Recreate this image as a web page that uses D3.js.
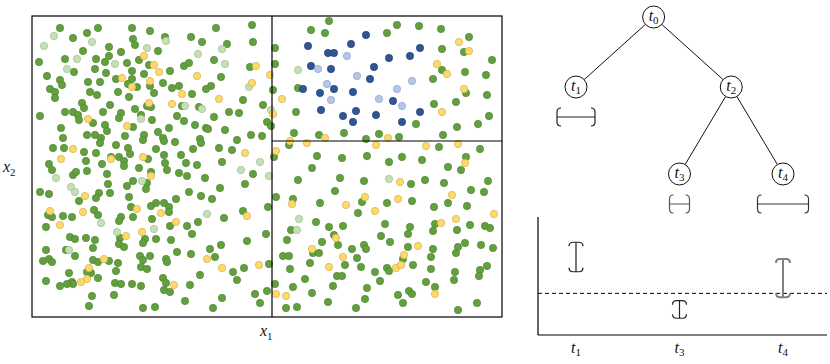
<!DOCTYPE html>
<html>
<head>
<meta charset="utf-8">
<script src="https://cdn.jsdelivr.net/npm/d3@7"></script>
<style>
  body { margin: 0; background: #fff; }
  text { font-family: "Liberation Serif", "DejaVu Serif", serif; }
</style>
</head>
<body>
<div id="root"></div>
<script>
// scatter points [x1, x2], grouped by class
const greenDark = [
  [28,289],[66,289],[100,289],[118,286],[184,289],[220,292],[55,284],[41,279],[101,278],[103,272],[133,280],[159,280],[170,275],[195,273],[221,275],[77,270],[51,266],[89,265],[126,266],[77,261],[7,255],[33,258],[64,258],[73,255],[95,254],[107,257],[117,252],[152,251],[157,254],[182,257],[42,245],[63,248],[100,246],[138,246],[218,250],[15,241],[74,244],[84,238],[100,238],[96,233],[112,243],[131,234],[189,240],[28,237],[30,232],[56,235],[68,235],[105,230],[118,231],[140,229],[147,231],[179,231],[174,228],[18,228],[23,225],[23,219],[58,225],[65,222],[86,225],[122,224],[160,223],[97,220],[211,217],[50,214],[78,212],[115,211],[119,210],[150,211],[167,210],[231,212],[52,209],[103,208],[8,201],[33,205],[41,205],[46,202],[71,205],[89,204],[87,199],[109,202],[145,201],[182,200],[197,205],[207,204],[235,195],[239,191],[47,197],[61,194],[120,197],[152,196],[163,192],[73,192],[75,186],[101,190],[29,189],[137,189],[174,189],[176,188],[193,187],[126,185],[55,182],[63,182],[69,179],[93,181],[112,182],[111,177],[131,179],[132,176],[219,182],[230,181],[31,179],[143,175],[168,178],[169,174],[205,177],[68,174],[84,172],[21,169],[32,169],[96,169],[124,168],[161,168],[187,169],[200,167],
  [297,296],[279,287],[293,284],[365,292],[387,291],[409,288],[355,284],[437,280],[243,269],[410,268],[432,265],[460,257],[243,253],[410,247],[433,245],[454,242],[401,238],[241,227],[266,229],[434,224],[455,222],[424,215],[402,213],[264,205],[457,201],[384,193],[446,193],[262,184],[287,182],[312,184],[425,190],[411,182],[347,183],[334,178],[367,180],
  [52,165],[64,164],[79,160],[87,160],[92,156],[98,163],[116,158],[132,162],[149,162],[190,155],[17,153],[20,147],[54,156],[55,146],[70,153],[92,151],[107,149],[133,154],[135,147],[154,154],[165,152],[147,144],[119,145],[41,142],[44,145],[75,143],[155,141],[173,139],[221,143],[101,136],[115,134],[76,133],[95,131],[114,128],[188,129],[213,133],[8,125],[17,123],[67,124],[78,124],[64,119],[47,116],[97,120],[157,125],[169,121],[180,118],[144,118],[124,114],[119,111],[132,114],[137,110],[99,110],[236,110],[16,102],[20,100],[31,101],[40,100],[62,107],[66,102],[89,100],[87,96],[101,100],[137,105],[120,98],[211,106],[192,99],[166,95],[14,90],[138,91],[155,91],[160,83],[234,83],[38,80],[43,78],[54,79],[63,77],[88,79],[87,73],[92,70],[113,78],[111,74],[124,78],[139,77],[61,69],[14,67],[34,67],[43,61],[145,65],[159,63],[178,68],[189,72],[215,76],[108,61],[118,61],[111,57],[134,58],[135,55],[183,60],[11,56],[17,58],[20,55],[61,57],[66,55],[77,56],[86,54],[109,50],[115,48],[84,46],[201,45],[212,49],[237,53],[59,44],[55,45],[37,44],[168,42],[40,35],[41,33],[35,33],[28,31],[14,36],[66,39],[131,39],[134,34],[83,34],[89,33],[100,33],[109,31],[158,32],[205,37],[132,27],[138,25],[235,26],[60,21],[82,22],[223,23],[190,19],[153,16],[228,14],[57,11],[111,9],[123,10],[181,9],
  [257,172],[407,170],[448,168],[242,160],[285,161],[310,159],[335,161],[370,160],[357,155],[390,157],[434,160],[280,149],[416,150],[429,147],[266,137],[308,139],[332,136],[379,133],[393,137],[412,134],[456,136],[303,126],[439,127],[452,125],[244,120],[261,118],[288,114],[330,115],[355,114],[380,116],[416,114],[402,110],[435,111],[326,104],[259,87],[284,95],[297,90],[311,91],[353,93],[378,90],[403,93],[425,87],[438,92],[453,91],[458,89],[401,86],[255,77],[302,82],[349,81],[376,83],[358,75],[290,75],[306,72],[281,64],[287,64],[320,68],[332,72],[334,68],[376,70],[401,68],[433,74],[426,70],[424,64],[449,72],[461,69],[251,61],[257,61],[325,59],[371,58],[399,60],[278,54],[313,52],[329,50],[355,49],[357,46],[381,52],[399,48],[258,48],[343,45],[423,45],[448,47],[455,51],[447,41],[422,37],[273,38],[305,41],[310,41],[348,36],[394,35],[243,33],[261,30],[301,31],[335,29],[403,30],[280,24],[366,22],[377,26],[380,23],[333,18],[296,15],[371,14],[445,14],[254,9],[265,10],[324,9],[426,7]
]
const greenLight = [
  [22,281],[60,275],[134,276],[12,271],[115,269],[190,268],[166,263],[45,258],[83,253],[193,253],[35,248],[217,230],[153,211],[170,208],[109,198],[239,207],
  [266,247],
  [228,155],[24,139],[209,147],[237,141],[110,136],[39,130],[43,125],[175,103],[69,94],[85,85],[122,88],[37,67],
  [357,138],[267,98],[265,87]
]
const yellow = [
  [112,261],[122,252],[127,245],[224,251],[238,242],[90,239],[118,236],[165,241],[100,230],[220,234],[150,223],[187,218],[117,214],[140,213],[95,191],[241,203],[56,198],[41,168],
  [427,275],[437,266],[405,253],[415,243],[432,228],[250,218],[410,205],[293,179],[356,179],[258,176],
  [29,158],[79,158],[111,160],[213,164],[119,141],[53,121],[105,108],[18,106],[51,105],[129,104],[215,101],[144,95],[28,92],[94,81],[110,85],[175,58],[72,58],[57,49],[190,49],[227,52],[55,38],[49,35],[142,32],
  [275,174],[344,172],[394,171],[426,173],[244,166],[433,154],[368,135],[420,122],[260,113],[333,120],[314,112],[366,118],[462,103],[343,106],[409,94],[424,98],[304,79],[280,68],[386,71],[311,60],[372,62],[297,50],[364,49],[369,52],[244,23],[254,21],[403,23]
]
const blueDark = [
  [334,282],[276,271],[319,273],[388,269],[296,264],[302,264],[378,261],[357,259],[279,251],[299,248],[342,250],[338,238],[271,228],[302,228],[288,224],[321,225],[361,216],[289,207],[324,206],[311,201],[344,202],[388,205],[321,195],[370,195]
]
const blueLight = [
  [315,261],[286,248],[325,241],[380,236],[295,233],[365,228],[299,217],[347,218],[370,211]
]
// splits of the feature space
const splitX1 = 240
const splitX2 = 176

// tree
const nodeIds = ["t0", "t1", "t2", "t3", "t4"]
const nodeParents = [null, "t0", "t0", "t2", "t2"]
const leafOrder = ["t1", "t3", "t4"]
const leafSpread = [0.38, 0.20, 0.51]   // horizontal interval under each leaf

// interval chart (lower right)
const intLow = [5.36, 1.42, 3.19]
const intHigh = [7.86, 2.91, 6.44]
const threshold = 3.53

function draw() {
    const w = 830, h = 364

    const svg = d3.select("#root").append("svg")
        .attr("width", w)
        .attr("height", h)

    svg.append("rect").attr("width", w).attr("height", h).attr("fill", "white")

    //scales for the scatter
    const xs = d3.scaleLinear().domain([0, 470]).range([32, 502])
    const ys = d3.scaleLinear().domain([0, 301]).range([317, 16])

    const styles = {
        gd: {fill: "#62a03d", stroke: "#4f8232"},
        gl: {fill: "#c5e0b4", stroke: "#9db78e"},
        y: {fill: "#ffd966", stroke: "#c9ab5a"},
        bd: {fill: "#2f5597", stroke: "#223f70"},
        bl: {fill: "#b4c7e7", stroke: "#8b9dbd"}
    }
    const pts = []
    greenDark.forEach(d => pts.push({x: d[0], y: d[1], c: "gd"}))
    greenLight.forEach(d => pts.push({x: d[0], y: d[1], c: "gl"}))
    yellow.forEach(d => pts.push({x: d[0], y: d[1], c: "y"}))
    blueDark.forEach(d => pts.push({x: d[0], y: d[1], c: "bd"}))
    blueLight.forEach(d => pts.push({x: d[0], y: d[1], c: "bl"}))

    svg.selectAll("circle.dot")
        .data(pts)
        .enter()
        .append("circle")
        .attr("class", "dot")
        .attr("cx", d => xs(d.x))
        .attr("cy", d => ys(d.y))
        .attr("r", 3.7)
        .attr("fill", d => styles[d.c].fill)
        .attr("stroke", d => styles[d.c].stroke)
        .attr("stroke-width", 0.6)

    // frame + split lines
    svg.append("rect")
        .attr("x", xs(0)).attr("y", ys(301))
        .attr("width", xs(470) - xs(0)).attr("height", ys(0) - ys(301))
        .attr("fill", "none").attr("stroke", "black").attr("stroke-width", 1.2)
    svg.append("line")
        .attr("x1", xs(splitX1)).attr("x2", xs(splitX1))
        .attr("y1", ys(0)).attr("y2", ys(301))
        .attr("stroke", "black").attr("stroke-width", 1.2)
    svg.append("line")
        .attr("x1", xs(splitX1)).attr("x2", xs(470))
        .attr("y1", ys(splitX2)).attr("y2", ys(splitX2))
        .attr("stroke", "black").attr("stroke-width", 1.2)

    // axis labels
    function subLabel(x, y, main, sub, size) {
        const t = svg.append("text").attr("x", x).attr("y", y)
            .attr("font-size", size).attr("fill", "#111")
        t.append("tspan").attr("font-style", "italic").text(main)
        t.append("tspan").attr("font-size", size * 0.68).attr("dy", size * 0.22).text(sub)
        return t
    }
    subLabel(260, 336, "x", "1", 16)
    subLabel(3, 172, "x", "2", 16)

    // tree
    const root = d3.stratify()
        .id(d => d.id)
        .parentId(d => d.parent)(nodeIds.map((id, i) => ({id: id, parent: nodeParents[i]})))

    const tx = d3.scalePoint().domain(leafOrder).range([576, 783])
    const depthY = d3.scaleLinear().domain([0, 1, 2]).range([17, 87, 174])
    const spreadScale = d3.scaleLinear().domain([0, 1]).range([0, 100])
    const r = 11

    root.eachAfter(n => {
        n.px = n.children ? d3.mean(n.children, c => c.px) : tx(n.id)
        n.py = depthY(n.depth)
    })

    const tree = svg.append("g")
    tree.selectAll("line.edge")
        .data(root.links())
        .enter()
        .append("line")
        .attr("class", "edge")
        .attr("stroke", "#111")
        .attr("stroke-width", 1)
        .each(function (d) {
            const dx = d.target.px - d.source.px, dy = d.target.py - d.source.py
            const len = Math.sqrt(dx * dx + dy * dy)
            d3.select(this)
                .attr("x1", d.source.px + dx / len * r)
                .attr("y1", d.source.py + dy / len * r)
                .attr("x2", d.target.px - dx / len * r)
                .attr("y2", d.target.py - dy / len * r)
        })

    const nodes = tree.selectAll("g.node")
        .data(root.descendants())
        .enter()
        .append("g")
        .attr("class", "node")
        .attr("transform", d => "translate(" + [d.px, d.py] + ")")
    nodes.append("circle")
        .attr("r", r)
        .attr("fill", "white")
        .attr("stroke", "#111")
        .attr("stroke-width", 1)
    const nt = nodes.append("text")
        .attr("text-anchor", "middle")
        .attr("y", 4)
        .attr("font-size", 16)
        .attr("fill", "#111")
    nt.append("tspan").attr("font-style", "italic").text("t")
    nt.append("tspan").attr("font-size", 11).attr("dy", 3).text(d => d.id.slice(1))

    // horizontal intervals under leaves
    const bracketColor = ["#222", "#555", "#333"]
    root.leaves().forEach(n => {
        const i = leafOrder.indexOf(n.id)
        const hw = spreadScale(leafSpread[i]) / 2
        const cx = n.px, cy = n.py + 30, hh = 9, c = 4
        const path = "M" + (cx - hw + c) + "," + (cy - hh) +
            "Q" + (cx - hw) + "," + (cy - hh) + " " + (cx - hw) + "," + (cy - hh + c) +
            "L" + (cx - hw) + "," + (cy + hh - c) +
            "Q" + (cx - hw) + "," + (cy + hh) + " " + (cx - hw + c) + "," + (cy + hh) +
            "M" + (cx + hw - c) + "," + (cy - hh) +
            "Q" + (cx + hw) + "," + (cy - hh) + " " + (cx + hw) + "," + (cy - hh + c) +
            "L" + (cx + hw) + "," + (cy + hh - c) +
            "Q" + (cx + hw) + "," + (cy + hh) + " " + (cx + hw - c) + "," + (cy + hh) +
            "M" + (cx - hw) + "," + cy + "L" + (cx + hw) + "," + cy
        svg.append("path").attr("d", path)
            .attr("fill", "none").attr("stroke", bracketColor[i]).attr("stroke-width", 1.2)
    })

    // interval chart
    const iy = d3.scaleLinear().domain([0, 10]).range([335, 217])
    const ix0 = 538, ix1 = 827

    svg.append("line").attr("x1", ix0).attr("x2", ix0).attr("y1", iy(0)).attr("y2", iy(10))
        .attr("stroke", "black").attr("stroke-width", 1.2)
    svg.append("line").attr("x1", ix0).attr("x2", ix1).attr("y1", iy(0)).attr("y2", iy(0))
        .attr("stroke", "black").attr("stroke-width", 1.2)
    svg.append("line").attr("x1", ix0).attr("x2", ix1).attr("y1", iy(threshold)).attr("y2", iy(threshold))
        .attr("stroke", "black").attr("stroke-width", 1).attr("stroke-dasharray", "4,3")

    const intColor = ["#222", "#222", "#808080"]
    const intWidth = [1.2, 1.2, 2]
    leafOrder.forEach((id, i) => {
        const x = tx(id), yt = iy(intHigh[i]), yb = iy(intLow[i]), cw = 7, c = 4
        const path = "M" + x + "," + yt + "L" + x + "," + yb +
            "M" + (x - cw) + "," + (yt + c) + "Q" + (x - cw) + "," + yt + " " + (x - cw + c) + "," + yt +
            "L" + (x + cw - c) + "," + yt + "Q" + (x + cw) + "," + yt + " " + (x + cw) + "," + (yt + c) +
            "M" + (x - cw) + "," + (yb - c) + "Q" + (x - cw) + "," + yb + " " + (x - cw + c) + "," + yb +
            "L" + (x + cw - c) + "," + yb + "Q" + (x + cw) + "," + yb + " " + (x + cw) + "," + (yb - c)
        svg.append("path").attr("d", path)
            .attr("fill", "none").attr("stroke", intColor[i]).attr("stroke-width", intWidth[i])

        const lt = svg.append("text")
            .attr("x", x).attr("y", 353)
            .attr("text-anchor", "middle")
            .attr("font-size", 16).attr("fill", "#111")
        lt.append("tspan").attr("font-style", "italic").text("t")
        lt.append("tspan").attr("font-size", 11).attr("dy", 3).text(id.slice(1))
    })
}

draw()
</script>
</body>
</html>
